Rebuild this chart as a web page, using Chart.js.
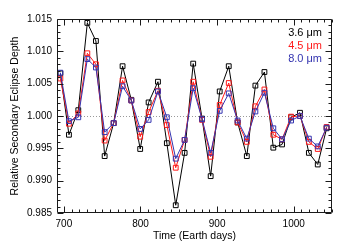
<!DOCTYPE html>
<html><head><meta charset="utf-8">
<script src="https://cdn.jsdelivr.net/npm/chart.js@4/dist/chart.umd.min.js"></script>
<style>html,body{margin:0;padding:0;background:#fff}#wrap{width:350px;height:250px;position:relative}</style>
</head><body><div id="wrap"><canvas id="c"></canvas></div>
<script>
const days = [695.4, 706.6, 718.8, 730.6, 741.8, 753.2, 765.0, 776.6, 788.0, 799.6, 810.6, 822.8, 834.4, 846.0, 857.6, 868.8, 880.4, 891.6, 903.4, 915.2, 926.8, 938.8, 950.0, 961.8, 973.4, 984.8, 996.6, 1008.2, 1019.8, 1031.4, 1043.0];
const depth36 = [1.0066, 0.9971, 1.0009, 1.0144, 1.0116, 0.9938, 0.9989, 1.0077, 1.0025, 0.9949, 1.0021, 1.0053, 0.9958, 0.9862, 0.9943, 1.0081, 0.9996, 0.9907, 1.0038, 1.0077, 0.9990, 0.9938, 1.0047, 1.0068, 0.9951, 0.9956, 0.9998, 1.0005, 0.9943, 0.9925, 0.9981];
const depth45 = [1.0058, 0.9988, 1.0004, 1.0097, 1.0080, 0.9962, 0.9989, 1.0055, 1.0024, 0.9968, 1.0006, 1.0039, 0.9986, 0.9920, 0.9963, 1.0053, 0.9994, 0.9937, 1.0017, 1.0051, 0.9990, 0.9960, 1.0015, 1.0041, 0.9971, 0.9964, 0.9999, 1.0000, 0.9960, 0.9949, 0.9983];
const depth80 = [1.0067, 0.9992, 0.9998, 1.0088, 1.0075, 0.9975, 0.9989, 1.0046, 1.0024, 0.9980, 0.9994, 1.0038, 0.9998, 0.9934, 0.9963, 1.0043, 0.9995, 0.9943, 1.0008, 1.0035, 0.9993, 0.9965, 1.0007, 1.0036, 0.9981, 0.9964, 0.9993, 1.0000, 0.9965, 0.9953, 0.9982];
const seriesLabels = ['3.6 \u03bcm', '4.5 \u03bcm', '8.0 \u03bcm'];
const xTicks = [700, 800, 900, 1000];
const yTicks = [0.985, 0.990, 0.995, 1.000, 1.005, 1.010, 1.015];
const xMinorStep = 10, yMinorStep = 0.001;
const refLevel = 1.0;

const FONT = '"Liberation Sans", Arial, Helvetica, sans-serif';
const colors = ['#000000', '#ff1a1a', '#3434b0'];

function mk(i, vals, order) {
  return {
    label: seriesLabels[i],
    data: days.map((d, k) => ({x: d, y: vals[k]})),
    borderColor: colors[i],
    backgroundColor: 'rgba(0,0,0,0)',
    pointBackgroundColor: 'rgba(0,0,0,0)',
    pointBorderColor: colors[i],
    pointStyle: 'rect',
    pointRadius: 3.4,
    pointBorderWidth: 1,
    borderWidth: 1,
    tension: 0,
    order: order
  };
}

const framePlugin = {
  id: 'frame',
  beforeDatasetsDraw(chart) {
    const {ctx, chartArea: a, scales: {x, y}} = chart;
    ctx.save();
    ctx.strokeStyle = '#999';
    ctx.lineWidth = 1;
    ctx.setLineDash([1, 2]);
    const yr = Math.round(y.getPixelForValue(refLevel)) + 0.5;
    ctx.beginPath(); ctx.moveTo(a.left, yr); ctx.lineTo(a.right, yr); ctx.stroke();
    ctx.restore();
  },
  afterDatasetsDraw(chart) {
    const {ctx, chartArea: a, scales: {x, y}} = chart;
    ctx.save();
    ctx.strokeStyle = '#1a1a1a';
    ctx.lineWidth = 1;
    const L = Math.round(a.left) + 0.5, R = Math.round(a.right) - 0.5;
    const T = Math.round(a.top) + 0.5, B = Math.round(a.bottom) - 0.5;
    ctx.beginPath();
    ctx.rect(L, T, R - L, B - T);
    ctx.stroke();
    ctx.beginPath();
    for (let v = xTicks[0] - xMinorStep * Math.floor((xTicks[0] - x.min) / xMinorStep); v <= x.max + 1e-9; v += xMinorStep) {
      const px = Math.round(x.getPixelForValue(v)) + 0.5;
      const major = xTicks.some(t => Math.abs(t - v) < 1e-6);
      const len = major ? 6 : 3;
      ctx.moveTo(px, B); ctx.lineTo(px, B - len);
      ctx.moveTo(px, T); ctx.lineTo(px, T + len);
    }
    for (let k = 0; ; k++) {
      const v = yTicks[0] + k * yMinorStep;
      if (v > y.max + 1e-9) break;
      const py = Math.round(y.getPixelForValue(v)) + 0.5;
      const major = yTicks.some(t => Math.abs(t - v) < 1e-7);
      const len = major ? 6 : 3;
      ctx.moveTo(L, py); ctx.lineTo(L + len, py);
      ctx.moveTo(R, py); ctx.lineTo(R - len, py);
    }
    ctx.stroke();
    // legend text
    ctx.font = '11px ' + FONT;
    ctx.textAlign = 'right';
    ctx.textBaseline = 'middle';
    const lx = 322, ly = [33, 46, 59];
    seriesLabels.forEach((s, i) => { ctx.fillStyle = colors[i]; ctx.fillText(s, lx, ly[i]); });
    ctx.restore();
  }
};

new Chart(document.getElementById('c'), {
  type: 'line',
  data: { datasets: [mk(0, depth36, 2), mk(1, depth45, 1), mk(2, depth80, 0)] },
  options: {
    responsive: true,
    maintainAspectRatio: false,
    animation: false,
    events: [],
    layout: { padding: { top: 19, right: 18, left: 0, bottom: 0 } },
    plugins: { legend: { display: false }, tooltip: { enabled: false } },
    scales: {
      x: {
        type: 'linear', min: 691, max: 1050,
        grid: { display: false, drawTicks: false },
        border: { display: false },
        afterBuildTicks(s) { s.ticks = xTicks.map(v => ({value: v})); },
        afterFit(s) { s.height = 37; },
        ticks: { color: '#000', padding: 5, maxRotation: 0, font: { family: FONT, size: 10 }, callback: v => String(v) },
        title: { display: true, text: 'Time (Earth days)', color: '#000', font: { family: FONT, size: 10.5 }, padding: { top: 0, bottom: 8 } }
      },
      y: {
        type: 'linear', min: 0.985, max: 1.015,
        grid: { display: false, drawTicks: false },
        border: { display: false },
        afterBuildTicks(s) { s.ticks = yTicks.map(v => ({value: v})); },
        afterFit(s) { s.width = 57; },
        ticks: { color: '#000', padding: 5, font: { family: FONT, size: 10 }, callback: v => Number(v).toFixed(3) },
        title: { display: true, text: 'Relative Secondary Eclipse Depth', color: '#000', font: { family: FONT, size: 10.5 }, padding: { top: 9, bottom: 0 } }
      }
    }
  },
  plugins: [framePlugin]
});
</script>
</body></html>
